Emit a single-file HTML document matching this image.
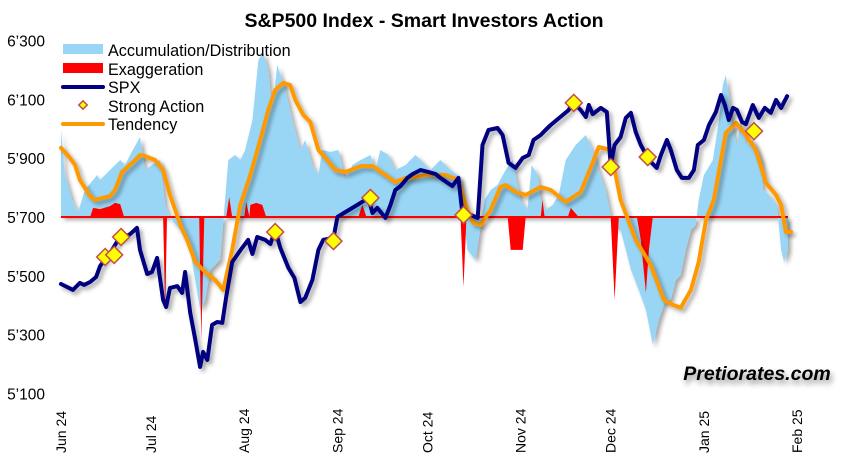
<!DOCTYPE html>
<html><head><meta charset="utf-8">
<style>
html,body{margin:0;padding:0;background:#fff;}
svg{display:block;font-family:"Liberation Sans",Arial,sans-serif;}
</style></head>
<body>
<svg id="chart" width="853" height="460" viewBox="0 0 853 460">
<defs>
<filter id="sh" x="-10%" y="-10%" width="120%" height="130%"><feDropShadow dx="3" dy="3" stdDeviation="2" flood-color="#000" flood-opacity="0.35"/></filter>
<filter id="tsh" x="-10%" y="-30%" width="120%" height="180%"><feDropShadow dx="2" dy="4" stdDeviation="3" flood-color="#000" flood-opacity="0.45"/></filter>
</defs>
<text x="424" y="27" text-anchor="middle" font-size="19.5" font-weight="bold">S&amp;P500 Index - Smart Investors Action</text>
<g id="yaxis"></g>
<g id="xaxis"></g>
<g id="plot"></g>
<g id="legend">
 <g><rect x="63" y="44" width="40" height="10" fill="#99D6F6"/><text x="108" y="56" font-size="16.2">Accumulation/Distribution</text></g>
 <g><rect x="63" y="63" width="40" height="10" fill="#FF0000"/><text x="108" y="75" font-size="16.2">Exaggeration</text></g>
 <g><line x1="63" y1="87" x2="103" y2="87" stroke="#000080" stroke-width="4" stroke-linecap="round"/><text x="108" y="93" font-size="16.2">SPX</text></g>
 <g><rect x="80" y="102" width="6" height="6" fill="#FFFF00" stroke="#C0504D" stroke-width="1.5" transform="rotate(45 83 105)"/><text x="108" y="112" font-size="16.2">Strong Action</text></g>
 <g><line x1="63" y1="124" x2="103" y2="124" stroke="#FF9900" stroke-width="4" stroke-linecap="round"/><text x="108" y="130" font-size="16.2">Tendency</text></g>
</g>
<text x="757" y="380" text-anchor="middle" font-size="19.5" font-weight="bold" font-style="italic" filter="url(#tsh)">Pretiorates.com</text>
</svg>
<script>
const yTicks=[5100,5300,5500,5700,5900,6100,6300];
const yTickLabels=["5’100","5’300","5’500","5’700","5’900","6’100","6’300"];
const monthDays=[0,30,61,92,122,153,183,214,245];
const monthLabels=["Jun 24","Jul 24","Aug 24","Sep 24","Oct 24","Nov 24","Dec 24","Jan 25","Feb 25"];
const spxDays=[0,4,6.3,7.7,9.7,11.7,13,15,17,19,21.3,23,25.3,26.3,28.7,30.3,32,34,35,36.3,38.7,40.3,41.3,43,44.7,46.3,47.3,48.7,50.3,52,53.7,55,57,60.3,62.3,63.7,65.3,68,69.7,71.3,73,75.7,77.7,79.7,81.3,83.7,85.7,87.3,90.7,92,94.7,97,99.7,102.3,103.7,105.3,108,109.7,111.3,113,115.3,117,119.7,122.3,124.7,126.3,128.7,130.3,132.3,133.7,136.3,138.7,140.3,142.3,145.3,147,149,151.3,153.7,155.7,157.3,159.7,161.3,163,165,167,169,170.3,173,174.7,175.7,177,179.7,181.7,183,184.3,186.3,188,189.7,191.3,193,195.7,198.3,199.7,201.7,203,205,206.7,209,210.7,212,214,215.7,218,219.7,221,222.3,223.7,225,226.7,228,230.3,232.3,234.3,236.3,238,239.7,241.7];
const spxVals=[5472,5452,5476,5469,5479,5496,5533,5561,5588,5622,5632,5642,5663,5588,5506,5513,5561,5418,5394,5459,5465,5442,5513,5374,5282,5190,5241,5214,5333,5343,5340,5428,5547,5595,5622,5574,5632,5622,5608,5656,5595,5527,5493,5411,5425,5486,5588,5622,5629,5700,5717,5731,5748,5765,5714,5731,5697,5741,5792,5805,5833,5846,5860,5853,5846,5833,5816,5805,5833,5707,5707,5697,5945,5996,6003,5979,5884,5867,5901,5911,5962,5979,5996,6013,6030,6047,6064,6091,6064,6040,6081,6050,6071,6057,5877,5945,5972,6037,6054,5989,5945,5894,5867,5911,5962,5928,5860,5833,5833,5860,5945,5962,6013,6057,6115,6081,6030,6071,6064,6023,6016,6081,6037,6071,6054,6098,6071,6111];
const tenDays=[0,3,4.7,6.3,9.7,11.3,16.3,18,20.3,24.7,26.3,28,31.3,34,36.3,39.7,42,44.7,48,51.3,54,57,59.7,63,66.3,69,71.3,74,76.3,78,80.7,83,85.7,88,91.3,94.7,99.7,103.7,108,111.3,114.7,118,121.3,128,132.3,134.7,137.3,139.7,143,146.3,148,151.3,154.7,159.7,163,168,173,176.3,179,183,186.3,191.3,196.3,200.7,203.7,206.3,209.7,212.3,214.7,217.3,219.7,221.3,224.7,228,231.3,234.7,238,239.7,241.3,243];
const tenVals=[5935,5901,5877,5826,5771,5758,5771,5792,5853,5894,5911,5907,5894,5860,5775,5673,5622,5547,5513,5486,5452,5588,5741,5843,5962,6064,6132,6156,6149,6098,6047,6023,5928,5901,5860,5853,5873,5873,5843,5819,5833,5836,5843,5843,5826,5741,5680,5673,5724,5802,5809,5785,5775,5802,5792,5751,5785,5867,5938,5928,5758,5622,5537,5418,5401,5391,5452,5547,5690,5758,5894,5986,6020,5979,5928,5816,5775,5741,5649,5649];
const adDays=[0,1.3,3.7,5.7,8,12,13,16.3,19.7,21.3,23,26.3,28,30.3,33,34.7,36.3,39.7,43,46.3,48,49.7,53,55.7,58,59.7,61.3,63.7,65.7,67.3,69,70.3,72,74.7,77,79.7,81.3,83.7,85.7,87,89.7,92.3,94.7,97,99.7,103,104.7,106.3,109,111.3,114.7,116.3,118,119.7,123,126.3,129.7,132,133.7,135.3,138,139,141,143,145.3,148,150.3,153,155.3,156.7,158.7,159.7,161.3,163.7,165.7,168,171.3,174.7,177,179,181.3,183.7,186.3,188,189.7,192.3,194.7,197,199,201.3,203,204.7,206.3,208,209.7,211.3,212.3,214,217,219,220.3,221.3,222.3,223.7,225,226.3,228,230.3,233,233.7,235.7,237,238.3,239.7,240.7,242];
const adVals=[5996,5843,5758,5717,5792,5843,5826,5860,5894,5877,5911,5972,5860,5877,5894,5741,5697,5656,5588,5384,5418,5520,5554,5894,5911,5894,5928,6030,6234,6261,6200,6064,6217,6132,6030,5928,5962,5877,5843,5928,5921,5928,5826,5877,5894,5911,5860,5928,5911,5860,5877,5894,5911,5894,5860,5894,5860,5843,5724,5588,5554,5622,5758,5792,5809,5860,5894,5758,5724,5877,5843,5758,5724,5741,5775,5894,5945,5979,5928,5860,5792,5673,5656,5588,5520,5452,5384,5265,5350,5418,5418,5486,5503,5588,5656,5673,5758,5843,5894,6030,6149,6183,6115,5996,5945,6030,5945,5962,5894,5792,5775,5758,5741,5588,5547,5588];
const exDays=[9.7,10.7,13,16.3,18,19.7,21,34,34.7,35.3,46,46.7,47.7,55,56,57,61,61.7,62.7,63,65,67,68.3,99,100.3,101.7,133,134,135,148.7,149.7,153.7,154.7,159.7,160.3,161,168.7,169.7,172.3,183,184.3,185.7,191.7,193,194.7,195.7,197];
const exVals=[5700,5731,5727,5737,5748,5744,5700,5700,5384,5700,5700,5282,5700,5700,5768,5700,5700,5751,5700,5741,5748,5741,5700,5700,5741,5700,5700,5462,5700,5700,5588,5588,5700,5700,5758,5700,5700,5731,5700,5700,5418,5700,5700,5622,5442,5588,5700];
const saDays=[14.7,17.7,20,71.3,90.7,103,134,170.7,183,195.3,230.7];
const saVals=[5564,5571,5632,5649,5618,5765,5707,6088,5870,5904,5992];
const BASE=5700;

const NS="http://www.w3.org/2000/svg";
const X0=61, PX_PER_DAY=3.004, Y0=217, PX_PER_UNIT=0.294;
function xs(d){return X0+d*PX_PER_DAY;}
function ys(v){return Y0-(v-BASE)*PX_PER_UNIT;}
function mk(tag,attrs,parent){const e=document.createElementNS(NS,tag);for(const k in attrs)e.setAttribute(k,attrs[k]);parent.appendChild(e);return e;}
const plot=document.getElementById('plot'),yax=document.getElementById('yaxis'),xax=document.getElementById('xaxis');

yTicks.forEach((t,i)=>{
 const el=mk('text',{x:45,y:ys(t)+6,'text-anchor':'end','font-size':'15.5'},yax);
 el.textContent=yTickLabels[i];
 
 
});
monthDays.forEach((d,i)=>{
 const x=xs(d)+5;
 const el=mk('text',{x:x,y:453,'font-size':'14',transform:`rotate(-90 ${x} 453)`},xax);
 el.textContent=monthLabels[i];
 
 
});

function areaPath(days,vals){
 let d=`M${xs(days[0])},${ys(BASE)}`;
 days.forEach((dd,i)=>{d+=` L${xs(dd).toFixed(1)},${ys(vals[i]).toFixed(1)}`;});
 d+=` L${xs(days[days.length-1])},${ys(BASE)} Z`;return d;
}
function linePath(days,vals){return days.map((dd,i)=>(i?'L':'M')+xs(dd).toFixed(1)+','+ys(vals[i]).toFixed(1)).join(' ');}

const ad=mk('path',{d:areaPath(adDays,adVals),fill:'#99D6F6',filter:'url(#sh)'},plot);


const ex=mk('path',{d:areaPath(exDays,exVals),fill:'#FF0000'},plot);


const bl=mk('line',{x1:xs(0),y1:ys(BASE),x2:xs(242),y2:ys(BASE),stroke:'#FF0000','stroke-width':2},plot);


const tl=mk('path',{d:linePath(tenDays,tenVals),fill:'none',stroke:'#FF9900','stroke-width':4,'stroke-linejoin':'round','stroke-linecap':'round',filter:'url(#sh)'},plot);


const sl=mk('path',{d:linePath(spxDays,spxVals),fill:'none',stroke:'#000080','stroke-width':4,'stroke-linejoin':'round','stroke-linecap':'round',filter:'url(#sh)'},plot);


saDays.forEach((d,i)=>{
 const cx=xs(d),cy=ys(saVals[i]);
 const r=mk('rect',{x:cx-6,y:cy-6,width:12,height:12,fill:'#FFFF00',stroke:'#C0504D','stroke-width':1.5,transform:`rotate(45 ${cx} ${cy})`},plot);
 
 
});
</script>
</body></html>
